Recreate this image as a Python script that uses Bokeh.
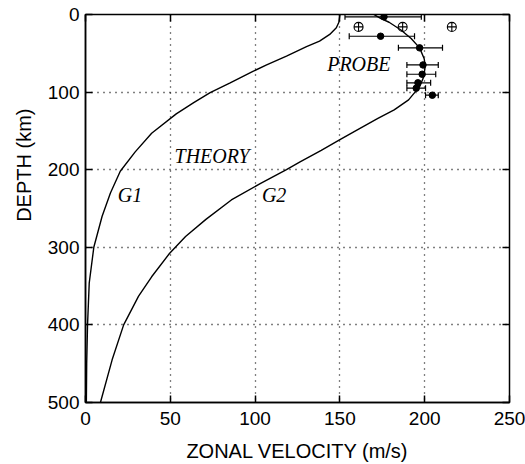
from bokeh.plotting import figure
from bokeh.models import (Range1d, LinearAxis, FixedTicker, Label, Whisker,
                          ColumnDataSource, TeeHead, Title)
from bokeh.embed import file_html
from bokeh.resources import INLINE

# ---- data ----
x_ticks = [0, 50, 100, 150, 200, 250]
y_ticks = [0, 100, 200, 300, 400, 500]

g1_depth = [0, 2, 10, 17, 25.7, 34.3, 41.5, 53.6, 65, 73, 88, 100.6, 113.5,
            128, 153, 177, 202, 230, 260, 300, 346, 400, 450, 500]
g1_vel = [150, 149.9, 149.4, 147.9, 144, 138, 130.3, 118.5, 106.8, 99, 85.3,
          73.5, 63.8, 53.5, 39, 29.3, 20.5, 14.7, 9.8, 4.9, 2.2, 1.2, 0.7, 0.5]

g2_depth = [0, 5, 10, 20, 31, 43, 57, 66, 80, 93, 110, 123, 134, 149, 162,
            175, 190, 200, 218, 239, 264, 286, 308, 338, 363, 400, 445, 500]
g2_vel = [170, 174, 179, 186, 192, 197, 199.7, 200.3, 199.5, 197, 190.5, 182,
          172.4, 160, 149.5, 139, 126.5, 118.5, 103, 86, 71, 59, 49.5, 39,
          31.3, 22.5, 15.7, 8.8]

probe_depth = [3, 28, 43, 65, 77, 88, 95, 104]
probe_vel = [176, 174, 197, 199, 198.5, 196, 195, 204.5]
probe_lo = [153, 155.5, 184.5, 189.5, 189.5, 189.5, 189.5, 200.5]
probe_hi = [198, 194, 210.5, 208, 206.5, 203.5, 200.5, 208]

cross_depth = [16, 16, 16]
cross_vel = [161, 187, 216]

label_text = ["PROBE", "THEORY", "G1", "G2"]
label_vel = [142.5, 52.5, 19, 104]
label_depth = [64, 182, 233, 233]

SANS = "Liberation Sans"
SERIF = "Liberation Serif"

p = figure(width=525, height=464, output_backend="svg", toolbar_location=None,
           x_range=Range1d(0, 250), y_range=Range1d(500, 0),
           min_border_left=83, min_border_right=16, min_border_top=14,
           min_border_bottom=61, background_fill_color="white",
           border_fill_color="white")
p.outline_line_color = "black"
p.outline_line_width = 1.5

for ax, ticks in ((p.xaxis[0], x_ticks), (p.yaxis[0], y_ticks)):
    ax.ticker = FixedTicker(ticks=ticks)
    ax.major_tick_in = 7
    ax.major_tick_out = 0
    ax.minor_tick_line_color = None
    ax.major_tick_line_width = 1.5
    ax.axis_line_width = 1.5
    ax.major_label_text_font = SANS
    ax.major_label_text_font_size = "19px"
    ax.major_label_text_color = "black"
p.xaxis.major_label_standoff = 9
p.yaxis.major_label_standoff = 6
p.xaxis.axis_label = "ZONAL VELOCITY (m/s)"
p.xaxis.axis_label_text_font = SANS
p.xaxis.axis_label_text_font_size = "20px"
p.xaxis.axis_label_text_font_style = "normal"
p.xaxis.axis_label_text_color = "black"
p.xaxis.axis_label_standoff = 12

for loc, ticks in (("above", x_ticks), ("right", y_ticks)):
    ax = LinearAxis(ticker=FixedTicker(ticks=ticks), major_tick_in=7,
                    major_tick_out=0, minor_tick_line_color=None,
                    major_tick_line_width=1.5, axis_line_color=None,
                    major_label_overrides={t: "" for t in ticks},
                    major_label_text_font_size="1px", major_label_standoff=0)
    p.add_layout(ax, loc)

ylab = Title(text="DEPTH (km)", align="right", offset=94,
             vertical_align="bottom", standoff=20, text_font=SANS,
             text_font_size="20px", text_font_style="normal",
             text_color="black")
p.add_layout(ylab, "left")

p.xgrid.ticker = FixedTicker(ticks=x_ticks[1:-1])
p.ygrid.ticker = FixedTicker(ticks=y_ticks[1:-1])
for g in (p.xgrid[0], p.ygrid[0]):
    g.grid_line_color = "black"
    g.grid_line_dash = "1 5"
    g.grid_line_width = 1.3
    g.grid_line_alpha = 1.0

p.line(g1_vel, g1_depth, line_color="black", line_width=1.4)
p.line(g2_vel, g2_depth, line_color="black", line_width=1.4)

src = ColumnDataSource(dict(d=probe_depth, v=probe_vel, lo=probe_lo, hi=probe_hi))
w = Whisker(source=src, base="d", lower="lo", upper="hi", dimension="width",
            line_color="black", line_width=1.2,
            lower_head=TeeHead(size=6, line_color="black", line_width=1.2),
            upper_head=TeeHead(size=6, line_color="black", line_width=1.2))
p.add_layout(w)
p.scatter("v", "d", source=src, size=6.5, color="black")
p.scatter(cross_vel, cross_depth, marker="circle_cross", size=9,
          line_color="black", fill_color=None, line_width=1.1)

for txt, x, y in zip(label_text, label_vel, label_depth):
    p.add_layout(Label(x=x, y=y, text=txt, text_font=SERIF,
                       text_font_style="italic", text_font_size="20px",
                       text_color="black", text_align="left",
                       text_baseline="alphabetic"))

open("out.html", "w").write(file_html(p, INLINE))
